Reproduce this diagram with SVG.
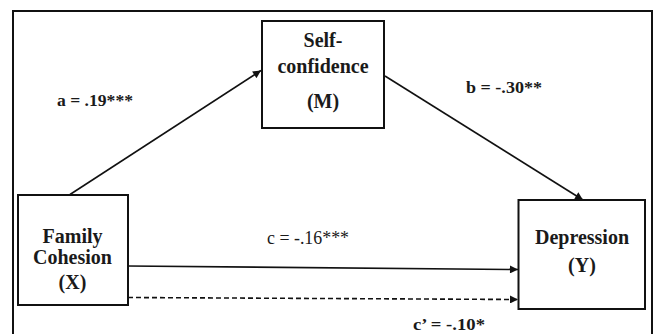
<svg xmlns="http://www.w3.org/2000/svg" width="660" height="334" viewBox="0 0 660 334">
<style>
.box{fill:#fff;stroke:#111;stroke-width:2}
text{font-family:'Liberation Serif','DejaVu Serif','Times New Roman',serif;fill:#1a1a1a}
.nt{font-weight:bold;font-size:20px;text-anchor:middle}
.lb{font-weight:bold;font-size:17px}
.lr{font-size:18px}
.ln{fill:none;stroke:#111;stroke-width:1.6}
</style>
<defs>
<marker id="ah" viewBox="0 0 10 10" refX="10" refY="5" markerWidth="9" markerHeight="8" markerUnits="userSpaceOnUse" orient="auto">
<path d="M0,0 L10,5 L0,10 z" fill="#111"/>
</marker>
</defs>
<rect width="660" height="334" fill="#fff"/>
<path d="M13,340 V11 H652 V340" fill="none" stroke="#111" stroke-width="2"/>
<g id="connectors">
<line class="ln" x1="70" y1="194.5" x2="261" y2="70.5" marker-end="url(#ah)"/>
<line class="ln" x1="385" y1="76" x2="583" y2="200" marker-end="url(#ah)"/>
<line class="ln" x1="128" y1="266" x2="518" y2="269.5" marker-end="url(#ah)"/>
<line class="ln" x1="128" y1="297.5" x2="518" y2="299.5" stroke-dasharray="5,3" marker-end="url(#ah)"/>
</g>
<g id="node-m">
<rect class="box" x="262" y="21" width="122" height="107"/>
<text class="nt" x="323" y="47" font-family="Liberation Serif, serif">Self-</text>
<text class="nt" x="323" y="73" font-family="Liberation Serif, serif">confidence</text>
<text class="nt" x="323" y="108" font-family="Liberation Serif, serif">(M)</text>
</g>
<g id="node-x">
<rect class="box" x="18" y="195" width="110" height="110"/>
<text class="nt" x="72.5" y="243" font-family="Liberation Serif, serif">Family</text>
<text class="nt" x="72.5" y="264" font-family="Liberation Serif, serif">Cohesion</text>
<text class="nt" x="72.5" y="289" font-family="Liberation Serif, serif">(X)</text>
</g>
<g id="node-y">
<rect class="box" x="518.5" y="200" width="126.5" height="109"/>
<text class="nt" x="582" y="244" font-family="Liberation Serif, serif">Depression</text>
<text class="nt" x="582" y="271.5" font-family="Liberation Serif, serif">(Y)</text>
</g>
<g id="labels">
<text class="lb" x="57" y="106" textLength="76" lengthAdjust="spacingAndGlyphs">a = .19***</text>
<text class="lb" x="466" y="92.5" textLength="76" lengthAdjust="spacingAndGlyphs">b = -.30**</text>
<text class="lr" x="267" y="244" textLength="82" lengthAdjust="spacingAndGlyphs">c = -.16***</text>
<text class="lb" x="413" y="329.5" textLength="72" lengthAdjust="spacingAndGlyphs">c’ = -.10*</text>
</g>
</svg>
